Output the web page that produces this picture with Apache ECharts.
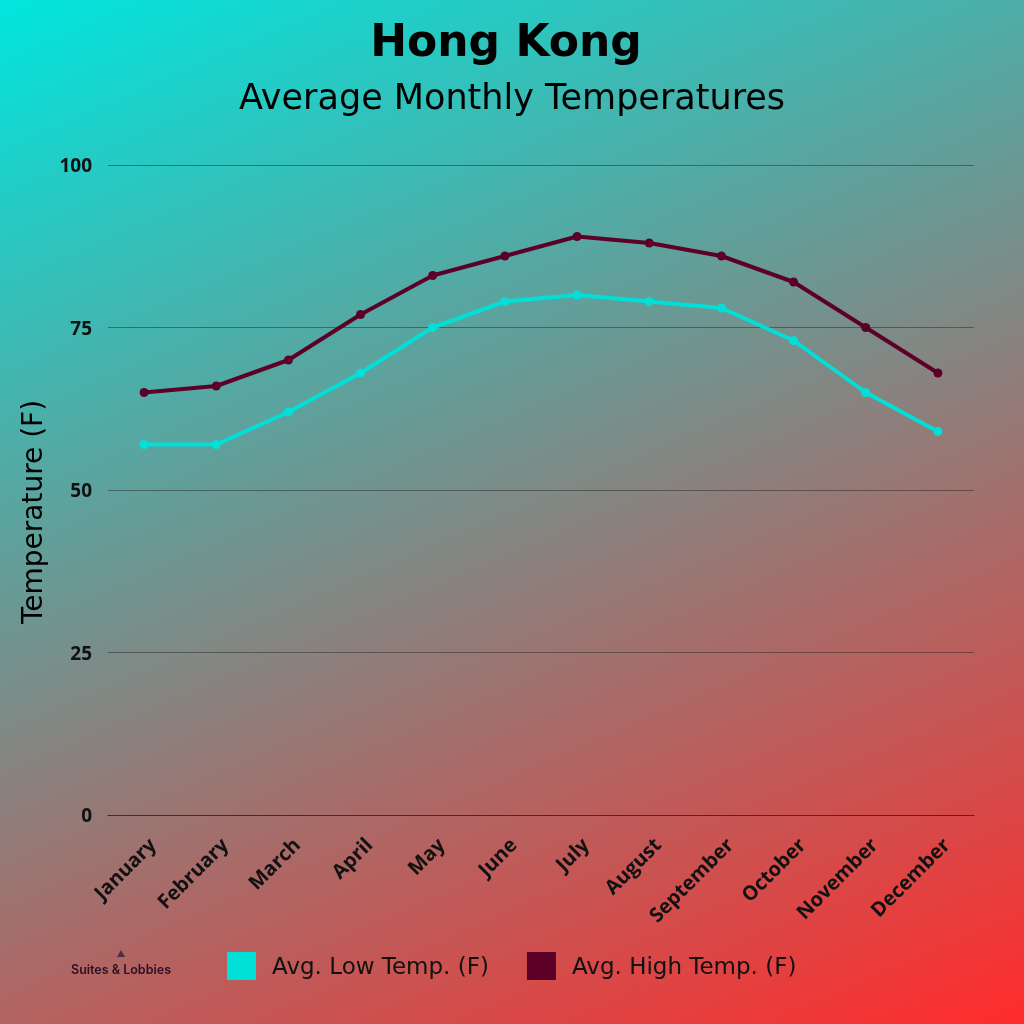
<!DOCTYPE html>
<html><head><meta charset="utf-8">
<style>html,body{margin:0;padding:0;width:1024px;height:1024px;overflow:hidden}#c{width:1024px;height:1024px}</style>
<script src="https://cdn.jsdelivr.net/npm/echarts@6/dist/echarts.min.js"></script></head>
<body><div id="c"></div>
<script>
const months=['January','February','March','April','May','June','July','August','September','October','November','December'];
const lowTemps=[57,57,62,68,75,79,80,79,78,73,65,59];
const highTemps=[65,66,70,77,83,86,89,88,86,82,75,68];
const chart=echarts.init(document.getElementById('c'),null,{renderer:'canvas'});
chart.setOption({
 animation:false,
 backgroundColor:new echarts.graphic.LinearGradient(0,0,0.52,1.2,[{offset:0,color:'#00e6de'},{offset:1,color:'#ff2c2c'}]),
 title:[
  {text:'Hong Kong',left:501,top:18,textAlign:'center',textStyle:{fontFamily:'DejaVu Sans',fontWeight:'bold',fontSize:44,color:'#000'}},
  {text:'Average Monthly Temperatures',left:507,top:77,textAlign:'center',textStyle:{fontFamily:'DejaVu Sans',fontWeight:'normal',fontSize:35,color:'#000'}}
 ],
 grid:{left:108,right:50,top:165,bottom:209},
 xAxis:{type:'category',data:months,boundaryGap:true,
  axisLine:{lineStyle:{color:'#333',width:1}},axisTick:{show:false},
  axisLabel:{rotate:45,interval:0,margin:18,formatter:v=>'{m|'+v+'}',
   rich:{m:{fontFamily:'Open Sans',fontWeight:'bold',fontSize:20,color:'#111',padding:[26,0,0,0]}}}},
 yAxis:{type:'value',min:0,max:100,interval:25,name:'Temperature (F)',nameLocation:'middle',nameGap:58,
  nameTextStyle:{fontFamily:'DejaVu Sans',fontSize:28,fontWeight:'normal',color:'#000',padding:[0,44,0,0]},
  axisLine:{show:false},axisTick:{show:false},
  axisLabel:{margin:16,formatter:v=>'{t|'+v+'}',
   rich:{t:{fontFamily:'Open Sans',fontWeight:'bold',fontSize:19,color:'#111',padding:[4,0,0,0]}}},
  splitLine:{lineStyle:{color:'rgba(40,40,40,0.5)',width:1}}},
 legend:{show:true,left:222,top:947,itemWidth:29,itemHeight:28,itemGap:38,icon:'rect',
  data:['Avg. Low Temp. (F)','Avg. High Temp. (F)'],
  formatter:n=>'{l|'+n+'}',
  textStyle:{padding:[0,0,0,11],rich:{l:{fontFamily:'DejaVu Sans',fontSize:23,color:'#111',padding:[4,0,0,0]}}}},
 graphic:[
  {type:'text',left:71,top:964,style:{text:'Suites & Lobbies',fontFamily:'Inter',fontWeight:600,fontSize:12.5,fill:'#2a1020'}},
  {type:'polygon',shape:{points:[[117,957],[121,950],[125,957]]},style:{fill:'#4a3045'}}
 ],
 series:[
  {name:'Avg. Low Temp. (F)',type:'line',data:lowTemps,symbol:'circle',symbolSize:9,smooth:false,
   lineStyle:{color:'#00e0d8',width:4},itemStyle:{color:'#00e0d8'}},
  {name:'Avg. High Temp. (F)',type:'line',data:highTemps,symbol:'circle',symbolSize:9,smooth:false,
   lineStyle:{color:'#5c0028',width:4},itemStyle:{color:'#5c0028'}}
 ]
});
</script></body></html>
